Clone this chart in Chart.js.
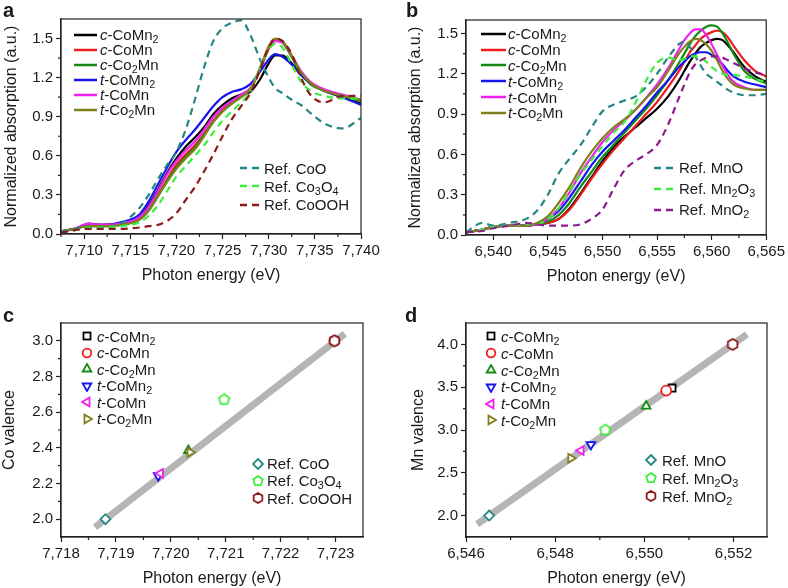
<!DOCTYPE html>
<html>
<head>
<meta charset="utf-8">
<title>XANES Co / Mn K-edge</title>
<script src="https://cdn.jsdelivr.net/npm/chart.js@4.4.1/dist/chart.umd.min.js"></script>
<style>
    body { margin: 0; background: #fff; font-family: 'Liberation Sans', Arial, Helvetica, sans-serif; color: #1a1a1a; }
    #fig { position: relative; width: 788px; height: 588px; overflow: hidden; }
    #fig canvas { position: absolute; }
    .tag { position: absolute; font-weight: bold; font-size: 20px; line-height: 1; }
    .leg { position: absolute; font-size: 15px; white-space: nowrap; }
    .leg .row { display: flex; align-items: center; }
    .leg svg { flex: none; }
    sub { font-size: 0.72em; vertical-align: -0.3em; line-height: 0; }
</style>
</head>
<body>
<div id="fig">
    <canvas id="ca" width="394" height="294" style="left:0;top:0"></canvas>
    <canvas id="cb" width="394" height="294" style="left:394px;top:0"></canvas>
    <canvas id="cc" width="394" height="294" style="left:0;top:294px"></canvas>
    <canvas id="cd" width="394" height="294" style="left:394px;top:294px"></canvas>
    <div class="tag" style="left:3px;top:0">a</div>
    <div class="tag" style="left:406px;top:0">b</div>
    <div class="tag" style="left:3px;top:305px">c</div>
    <div class="tag" style="left:405px;top:305px">d</div>
</div>
<script>
// ---- labels ----
const sampleNames = ['<i>c</i>-CoMn<sub>2</sub>', '<i>c</i>-CoMn', '<i>c</i>-Co<sub>2</sub>Mn',
                     '<i>t</i>-CoMn<sub>2</sub>', '<i>t</i>-CoMn', '<i>t</i>-Co<sub>2</sub>Mn'];
const coRefNames = ['Ref. CoO', 'Ref. Co<sub>3</sub>O<sub>4</sub>', 'Ref. CoOOH'];
const mnRefNames = ['Ref. MnO', 'Ref. Mn<sub>2</sub>O<sub>3</sub>', 'Ref. MnO<sub>2</sub>'];

const sampleColors = ['#000000', '#ee1c1c', '#138a13', '#1515f0', '#f020f0', '#80801a'];
const refColors = ['#268585', '#3cee3c', '#8b1a1a'];
const mnRefColors = ['#268585', '#3cee3c', '#8b1a8b'];

// ---- panel a : Co K-edge ----
const eA = [7707.5, 7709, 7710.5, 7712, 7714, 7716, 7717, 7718, 7719, 7720, 7721, 7722, 7723, 7724,
            7725, 7726, 7727, 7728, 7729, 7730, 7730.7, 7731.5, 7732.5, 7733.5, 7734.5, 7736, 7738, 7740];
const aCCoMn2 = [0.02,0.04,0.07,0.07,0.08,0.13,0.22,0.34,0.47,0.58,0.67,0.74,0.82,0.92,0.99,1.04,1.07,1.09,1.18,1.31,1.37,1.37,1.31,1.22,1.16,1.10,1.05,1.00];
const aCCoMn  = [0.02,0.04,0.07,0.07,0.08,0.12,0.19,0.30,0.42,0.53,0.61,0.68,0.77,0.87,0.95,1.01,1.06,1.11,1.25,1.42,1.49,1.47,1.36,1.24,1.16,1.10,1.06,1.03];
const aCCo2Mn = [0.02,0.04,0.06,0.06,0.07,0.11,0.18,0.29,0.41,0.51,0.59,0.66,0.76,0.86,0.94,1.00,1.05,1.11,1.26,1.43,1.49,1.47,1.36,1.23,1.15,1.10,1.06,1.02];
const aTCoMn2 = [0.02,0.04,0.08,0.07,0.09,0.15,0.25,0.38,0.51,0.63,0.72,0.80,0.89,0.98,1.05,1.09,1.11,1.15,1.24,1.34,1.38,1.36,1.30,1.22,1.16,1.10,1.05,0.99];
const aTCoMn  = [0.02,0.04,0.08,0.07,0.08,0.13,0.21,0.33,0.46,0.56,0.64,0.71,0.80,0.90,0.97,1.02,1.07,1.12,1.26,1.43,1.48,1.47,1.37,1.25,1.17,1.11,1.07,1.03];
const aTCo2Mn = [0.02,0.04,0.06,0.06,0.07,0.11,0.18,0.29,0.40,0.50,0.58,0.65,0.75,0.86,0.94,1.00,1.05,1.11,1.26,1.44,1.50,1.48,1.37,1.24,1.16,1.10,1.06,1.03];
const aCoO    = [0.02,0.04,0.05,0.05,0.08,0.20,0.30,0.42,0.53,0.63,0.80,1.03,1.28,1.48,1.58,1.62,1.64,1.53,1.35,1.20,1.12,1.08,1.03,0.99,0.93,0.85,0.81,0.89];
const aCo3O4  = [0.01,0.03,0.05,0.05,0.06,0.09,0.14,0.22,0.33,0.44,0.52,0.60,0.68,0.78,0.87,0.94,1.01,1.09,1.27,1.41,1.46,1.43,1.30,1.17,1.10,1.06,1.04,1.04];
const aCoOOH  = [0.01,0.03,0.04,0.04,0.04,0.05,0.06,0.07,0.10,0.16,0.26,0.36,0.48,0.61,0.75,0.88,0.98,1.08,1.25,1.43,1.50,1.48,1.38,1.20,1.07,1.01,1.06,1.06];

// ---- panel b : Mn K-edge ----
const eB = [6537.5, 6539, 6540, 6541.5, 6543, 6544, 6545, 6546, 6547, 6548, 6549, 6550, 6551, 6552, 6553, 6554,
            6555, 6556, 6557, 6557.5, 6558, 6558.5, 6559, 6559.5, 6560, 6560.5, 6561, 6561.5, 6562, 6563, 6564, 6565];
const bCCoMn2 = [0.02,0.04,0.06,0.07,0.07,0.08,0.09,0.12,0.20,0.31,0.43,0.55,0.65,0.73,0.80,0.87,0.94,1.03,1.15,1.22,1.29,1.35,1.40,1.43,1.45,1.46,1.45,1.41,1.36,1.25,1.18,1.14];
const bCCoMn  = [0.02,0.04,0.06,0.07,0.07,0.08,0.09,0.12,0.19,0.30,0.42,0.53,0.63,0.72,0.81,0.90,0.99,1.10,1.22,1.29,1.36,1.41,1.46,1.49,1.51,1.52,1.51,1.47,1.41,1.30,1.22,1.18];
const bCCo2Mn = [0.02,0.04,0.06,0.07,0.07,0.08,0.10,0.15,0.24,0.36,0.47,0.58,0.67,0.76,0.85,0.94,1.04,1.15,1.28,1.35,1.42,1.48,1.52,1.55,1.56,1.55,1.50,1.43,1.35,1.22,1.16,1.13];
const bTCoMn2 = [0.02,0.04,0.06,0.07,0.07,0.08,0.12,0.18,0.28,0.40,0.52,0.62,0.70,0.78,0.87,0.96,1.06,1.15,1.25,1.29,1.33,1.35,1.36,1.36,1.34,1.31,1.27,1.22,1.18,1.14,1.12,1.10];
const bTCoMn  = [0.02,0.04,0.06,0.07,0.07,0.08,0.12,0.20,0.32,0.46,0.58,0.69,0.78,0.85,0.93,1.02,1.12,1.24,1.38,1.45,1.50,1.53,1.53,1.49,1.42,1.34,1.26,1.19,1.14,1.10,1.08,1.08];
const bTCo2Mn = [0.02,0.04,0.06,0.07,0.07,0.09,0.14,0.24,0.36,0.50,0.62,0.72,0.80,0.86,0.93,1.02,1.10,1.22,1.35,1.40,1.44,1.46,1.45,1.42,1.37,1.30,1.22,1.16,1.12,1.09,1.08,1.08];
const bMnO    = [0.02,0.09,0.07,0.09,0.12,0.18,0.30,0.46,0.57,0.67,0.80,0.92,0.97,1.00,1.03,1.10,1.20,1.32,1.42,1.44,1.40,1.33,1.26,1.20,1.17,1.14,1.11,1.08,1.06,1.04,1.04,1.05];
const bMn2O3  = [0.02,0.04,0.06,0.07,0.08,0.08,0.12,0.20,0.33,0.45,0.56,0.66,0.76,0.84,0.98,1.15,1.28,1.32,1.30,1.31,1.33,1.33,1.32,1.29,1.25,1.22,1.20,1.19,1.19,1.18,1.16,1.14];
const bMnO2   = [0.02,0.03,0.05,0.07,0.09,0.08,0.07,0.07,0.07,0.08,0.12,0.19,0.34,0.48,0.55,0.60,0.67,0.82,1.02,1.12,1.21,1.27,1.30,1.32,1.33,1.33,1.32,1.30,1.28,1.24,1.21,1.19];

// ---- panels c, d : edge energy vs valence (samples, then references) ----
const coEnergy  = [7722.98, 7722.98, 7720.32, 7719.77, 7719.81, 7720.35, 7718.81, 7720.97, 7722.98];
const coValence = [3.00, 3.00, 2.385, 2.244, 2.257, 2.375, 2.00, 2.67, 3.00];
const mnEnergy  = [6550.62, 6550.49, 6550.04, 6548.80, 6548.58, 6548.35, 6546.52, 6549.12, 6551.98];
const mnValence = [3.49, 3.46, 3.28, 2.83, 2.76, 2.67, 2.00, 3.00, 4.00];
const fitCoE = [7718.62, 7723.17];
const fitCoV = [1.955, 3.04];
const fitMnE = [6546.25, 6552.30];
const fitMnV = [1.90, 4.117];

// ---- ticks ----
const aXTicks = [7710, 7715, 7720, 7725, 7730, 7735, 7740];
const bXTicks = [6540, 6545, 6550, 6555, 6560, 6565];
const abYTicks = [0, 0.3, 0.6, 0.9, 1.2, 1.5];
const cXTicks = [7718, 7719, 7720, 7721, 7722, 7723];
const cYTicks = [2.0, 2.2, 2.4, 2.6, 2.8, 3.0];
const dXTicks = [6546, 6548, 6550, 6552];
const dYTicks = [2.0, 2.5, 3.0, 3.5, 4.0];

const markerShapes = ['rect', 'circle', 'up', 'down', 'left', 'right', 'diamond', 'pentagon', 'hexagon'];

Chart.defaults.font.family = "'Liberation Sans', Arial, Helvetica, sans-serif";
Chart.defaults.color = '#1a1a1a';
Chart.defaults.animation = false;

const fig = document.getElementById('fig');
const ink = '#222';

// midpoints between major ticks (and one step beyond each end), used as minor ticks
function minors(major, min, max) {
    const step = major[1] - major[0];
    const out = [];
    for (let v = major[0] - step / 2; v < max; v += step) {
        if (v > min + 1e-9 && v < max - 1e-9) out.push(v);
    }
    return out;
}

// box around the plot + minor ticks
const framePlugin = {
    id: 'frame',
    afterDraw(chart, args, opts) {
        const { ctx, chartArea: a, scales } = chart;
        ctx.save();
        ctx.strokeStyle = ink;
        ctx.lineWidth = 1.2;
        ctx.strokeRect(a.left, a.top, a.right - a.left, a.bottom - a.top);
        ctx.beginPath();
        opts.xMinor.forEach(v => {
            const px = scales.x.getPixelForValue(v);
            ctx.moveTo(px, a.bottom);
            ctx.lineTo(px, a.bottom + 3);
        });
        opts.yMinor.forEach(v => {
            const py = scales.y.getPixelForValue(v);
            ctx.moveTo(a.left, py);
            ctx.lineTo(a.left - 3, py);
        });
        ctx.stroke();
        ctx.restore();
    }
};

function axis(isX, min, max, ticks, fmt, title, size, titlePad) {
    return {
        type: 'linear',
        min: min,
        max: max,
        afterBuildTicks: s => { s.ticks = ticks.map(v => ({ value: v })); },
        afterFit: s => { if (isX) s.height = size; else s.width = size; },
        ticks: { callback: fmt, autoSkip: false, maxRotation: 0, padding: 3, font: { size: 15 }, color: '#1a1a1a' },
        grid: { drawOnChartArea: false, tickLength: 5, color: ink, tickWidth: 1.2 },
        border: { display: true, color: ink, width: 1.2 },
        title: { display: true, text: title, font: { size: 16 }, color: '#1a1a1a', padding: titlePad }
    };
}

const fmtE = v => v.toLocaleString('en-US');
const fmt1 = v => v.toFixed(1);

function curve(label, xs, ys, color, dashed, i) {
    return {
        label: label,
        data: xs.map((x, k) => ({ x: x, y: ys[k] })),
        borderColor: color,
        borderWidth: 2.2,
        borderDash: dashed ? [7, 5] : [],
        pointRadius: 0,
        cubicInterpolationMode: 'monotone',
        fill: false,
        order: -i
    };
}

// pentagon / hexagon point styles
function polyCanvas(n, color, r) {
    const s = Math.ceil(2 * r + 4);
    const c = document.createElement('canvas');
    c.width = c.height = s;
    const g = c.getContext('2d');
    g.beginPath();
    for (let k = 0; k < n; k++) {
        const t = k * 2 * Math.PI / n;
        const px = s / 2 + r * Math.sin(t), py = s / 2 - r * Math.cos(t);
        if (k) g.lineTo(px, py); else g.moveTo(px, py);
    }
    g.closePath();
    g.fillStyle = '#fff';
    g.fill();
    g.lineWidth = 1.8;
    g.strokeStyle = color;
    g.stroke();
    return c;
}

function pointStyleFor(shape, color) {
    switch (shape) {
        case 'rect': return { pointStyle: 'rect', rotation: 0 };
        case 'circle': return { pointStyle: 'circle', rotation: 0 };
        case 'up': return { pointStyle: 'triangle', rotation: 0 };
        case 'down': return { pointStyle: 'triangle', rotation: 180 };
        case 'left': return { pointStyle: 'triangle', rotation: 270 };
        case 'right': return { pointStyle: 'triangle', rotation: 90 };
        case 'diamond': return { pointStyle: 'rectRot', rotation: 0 };
        case 'pentagon': return { pointStyle: polyCanvas(5, color, 5.5), rotation: 0 };
        case 'hexagon': return { pointStyle: polyCanvas(6, color, 5.5), rotation: 0 };
    }
}

function valencePoints(labels, xs, ys, colors) {
    return xs.map((x, i) => {
        const st = pointStyleFor(markerShapes[i], colors[i]);
        return {
            type: 'scatter',
            label: labels[i],
            data: [{ x: x, y: ys[i] }],
            pointStyle: st.pointStyle,
            rotation: st.rotation,
            pointRadius: 5,
            pointBorderWidth: 1.8,
            pointBorderColor: colors[i],
            pointBackgroundColor: '#fff',
            order: -i
        };
    });
}

function fitLine(xs, ys) {
    return {
        type: 'line',
        label: 'fit',
        data: xs.map((x, k) => ({ x: x, y: ys[k] })),
        borderColor: '#b5b5b5',
        borderWidth: 7,
        pointRadius: 0,
        order: 10
    };
}

function makeChart(id, datasets, x, y, pad, xMinor, yMinor) {
    return new Chart(document.getElementById(id), {
        type: 'line',
        data: { datasets: datasets },
        options: {
            responsive: false,
            devicePixelRatio: 1,
            layout: { padding: pad },
            scales: { x: x, y: y },
            plugins: {
                legend: { display: false },
                tooltip: { enabled: false },
                frame: { xMinor: xMinor, yMinor: yMinor }
            }
        },
        plugins: [framePlugin]
    });
}

// ---- HTML legends (italic prefixes and subscripts) ----
function lineLegend(left, top, rowH, swW, gap, labels, colors, dashed) {
    const box = document.createElement('div');
    box.className = 'leg';
    box.style.left = left + 'px';
    box.style.top = top + 'px';
    labels.forEach((lab, i) => {
        const row = document.createElement('div');
        row.className = 'row';
        row.style.height = rowH + 'px';
        const dash = dashed ? ' stroke-dasharray="7,5"' : '';
        row.innerHTML = `<svg width="${swW}" height="6" style="margin-right:${gap}px"><line x1="0" y1="3" x2="${swW}" y2="3" stroke="${colors[i]}" stroke-width="2.5"${dash}/></svg><span>${lab}</span>`;
        box.appendChild(row);
    });
    fig.appendChild(box);
}

function polyPts(n, r, rotDeg) {
    const pts = [];
    for (let k = 0; k < n; k++) {
        const t = rotDeg * Math.PI / 180 + k * 2 * Math.PI / n;
        pts.push((6 + r * Math.sin(t)).toFixed(2) + ',' + (6 - r * Math.cos(t)).toFixed(2));
    }
    return pts.join(' ');
}

function markerSvg(shape, color) {
    const st = `fill="#fff" stroke="${color}" stroke-width="1.8"`;
    let body;
    switch (shape) {
        case 'rect': body = `<rect x="2.5" y="2.5" width="7" height="7" ${st}/>`; break;
        case 'circle': body = `<circle cx="6" cy="6" r="4.3" ${st}/>`; break;
        case 'up': body = `<polygon points="${polyPts(3, 5, 0)}" ${st}/>`; break;
        case 'down': body = `<polygon points="${polyPts(3, 5, 180)}" ${st}/>`; break;
        case 'left': body = `<polygon points="${polyPts(3, 5, 270)}" ${st}/>`; break;
        case 'right': body = `<polygon points="${polyPts(3, 5, 90)}" ${st}/>`; break;
        case 'diamond': body = `<polygon points="${polyPts(4, 5, 0)}" ${st}/>`; break;
        case 'pentagon': body = `<polygon points="${polyPts(5, 5, 0)}" ${st}/>`; break;
        case 'hexagon': body = `<polygon points="${polyPts(6, 5, 0)}" ${st}/>`; break;
    }
    return `<svg width="12" height="12">${body}</svg>`;
}

function markerLegend(left, top, rowH, gap, labels, colors, shapes) {
    const box = document.createElement('div');
    box.className = 'leg';
    box.style.left = left + 'px';
    box.style.top = top + 'px';
    labels.forEach((lab, i) => {
        const row = document.createElement('div');
        row.className = 'row';
        row.style.height = rowH + 'px';
        row.innerHTML = `<span style="margin-right:${gap}px;display:flex">${markerSvg(shapes[i], colors[i])}</span><span>${lab}</span>`;
        box.appendChild(row);
    });
    fig.appendChild(box);
}

// ---- panel a ----
const aSeries = [aCCoMn2, aCCoMn, aCCo2Mn, aTCoMn2, aTCoMn, aTCo2Mn];
const aRefs = [aCoO, aCo3O4, aCoOOH];
const dsA = aSeries.map((ys, i) => curve('s' + i, eA, ys, sampleColors[i], false, i))
    .concat(aRefs.map((ys, i) => curve('r' + i, eA, ys, refColors[i], true, i + 6)));
makeChart('ca', dsA,
    axis(true, 7707.5, 7740, aXTicks, fmtE, 'Photon energy (eV)', 60, { top: 0, bottom: 9 }),
    axis(false, 0, 1.65, abYTicks, fmt1, 'Normalized absorption (a.u.)', 61, { top: 2, bottom: 0 }),
    { left: 0, right: 33, top: 19, bottom: 0 },
    minors(aXTicks, 7707.5, 7740).concat([7707.5]), minors(abYTicks, 0, 1.65));

// ---- panel b ----
const bSeries = [bCCoMn2, bCCoMn, bCCo2Mn, bTCoMn2, bTCoMn, bTCo2Mn];
const bRefs = [bMnO, bMn2O3, bMnO2];
const dsB = bSeries.map((ys, i) => curve('s' + i, eB, ys, sampleColors[i], false, i))
    .concat(bRefs.map((ys, i) => curve('r' + i, eB, ys, mnRefColors[i], true, i + 6)));
makeChart('cb', dsB,
    axis(true, 6537.5, 6565, bXTicks, fmtE, 'Photon energy (eV)', 59, { top: 0, bottom: 8 }),
    axis(false, 0, 1.6, abYTicks, fmt1, 'Normalized absorption (a.u.)', 72, { top: 12, bottom: 0 }),
    { left: 0, right: 21, top: 20, bottom: 0 },
    minors(bXTicks, 6537.5, 6565), minors(abYTicks, 0, 1.6));

// ---- panel c ----
const dsC = valencePoints(sampleNames.concat(coRefNames), coEnergy, coValence, sampleColors.concat(refColors))
    .concat([fitLine(fitCoE, fitCoV)]);
makeChart('cc', dsC,
    axis(true, 7718, 7723.5, cXTicks, fmtE, 'Photon energy (eV)', 51, { top: 0, bottom: 0 }),
    axis(false, 1.9, 3.1, cYTicks, fmt1, 'Co valence', 61, { top: 0, bottom: 0 }),
    { left: 0, right: 31, top: 29, bottom: 0 },
    minors(cXTicks, 7718, 7723.5), minors(cYTicks, 1.9, 3.1));

// ---- panel d (scatter references use the same hues as panel c) ----
const dsD = valencePoints(sampleNames.concat(mnRefNames), mnEnergy, mnValence, sampleColors.concat(refColors))
    .concat([fitLine(fitMnE, fitMnV)]);
makeChart('cd', dsD,
    axis(true, 6546, 6552.75, dXTicks, fmtE, 'Photon energy (eV)', 51, { top: 0, bottom: 0 }),
    axis(false, 1.75, 4.25, dYTicks, fmt1, 'Mn valence', 72, { top: 15, bottom: 0 }),
    { left: 0, right: 21, top: 29, bottom: 0 },
    minors(dXTicks, 6546, 6552.75), minors(dYTicks, 1.75, 4.25));

// ---- legends ----
lineLegend(74, 27, 15, 23, 3, sampleNames, sampleColors, false);
lineLegend(240, 159, 18.3, 20, 4, coRefNames, refColors, true);
lineLegend(481, 26, 15.8, 25, 2, sampleNames, sampleColors, false);
lineLegend(654, 157, 21, 20, 5, mnRefNames, mnRefColors, true);
markerLegend(81, 328, 16.5, 4, sampleNames, sampleColors, markerShapes.slice(0, 6));
markerLegend(252, 455, 17.3, 3, coRefNames, refColors, markerShapes.slice(6));
markerLegend(485, 328, 16.8, 4, sampleNames, sampleColors, markerShapes.slice(0, 6));
markerLegend(645, 451, 18, 5, mnRefNames, refColors, markerShapes.slice(6));
</script>
</body>
</html>
